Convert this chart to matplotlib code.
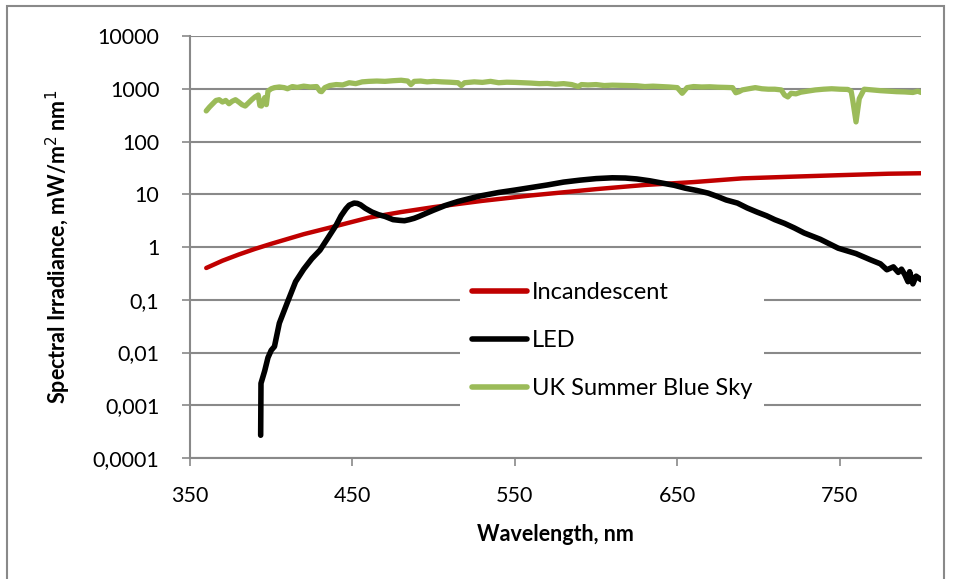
import matplotlib
matplotlib.use('Agg')
import matplotlib.pyplot as plt
from matplotlib.patches import Rectangle
from matplotlib.ticker import FixedLocator, FixedFormatter, NullLocator

# Incandescent lamp
inc_wl = [360, 370, 380, 390, 400, 420, 440, 460, 480, 500, 530, 560, 600, 630, 660, 690, 720, 750, 780, 800]
inc_val = [0.40, 0.55, 0.72, 0.92, 1.15, 1.75, 2.5, 3.6, 4.6, 5.7, 7.5, 9.5, 12.5, 15, 17, 20, 21.5, 23, 24.5, 25]

# LED
led_wl = [393.5, 393.7, 396, 398, 400, 402, 405, 410, 415, 420, 425, 430, 435, 440, 443, 446, 448, 451, 453,
          455, 458, 462, 466, 470, 475, 479, 482, 485, 488, 491, 495, 500, 507, 515, 528, 540, 550, 570, 580,
          590, 600, 610, 618, 625, 633, 642, 648, 655, 662, 669, 675, 680, 687, 693, 699, 705, 710, 716, 722,
          728, 738, 749, 760, 769, 775, 779, 783, 786, 788, 790, 792, 793, 795, 797, 800]
led_val = [0.00027, 0.0026, 0.0045, 0.008, 0.011, 0.013, 0.036, 0.09, 0.22, 0.38, 0.6, 0.87, 1.5, 2.6, 3.9, 5.3,
           6.2, 6.8, 6.7, 6.3, 5.4, 4.6, 4.1, 3.8, 3.3, 3.2, 3.15, 3.3, 3.5, 3.8, 4.3, 5.0, 6.1, 7.3, 9.2, 10.8,
           12, 15, 17, 18.5, 19.8, 20.5, 20.3, 19.5, 18, 16, 14.8, 13, 11.8, 10.5, 9.0, 7.8, 6.8, 5.5, 4.6, 3.9,
           3.3, 2.8, 2.3, 1.85, 1.4, 0.95, 0.75, 0.57, 0.48, 0.37, 0.42, 0.33, 0.38, 0.30, 0.22, 0.34, 0.20,
           0.28, 0.24]

# UK summer blue sky
sky_wl = [360, 362, 364, 366, 368, 370, 372, 374, 376, 378, 380, 382, 384, 386, 388, 390, 392, 393, 394, 396,
          397, 398, 400, 402, 405, 408, 410, 413, 416, 420, 424, 428, 430, 431, 433, 436, 440, 444, 448, 452,
          456, 460, 465, 470, 475, 480, 484, 486, 488, 492, 496, 500, 505, 510, 515, 517, 519, 525, 530, 535,
          540, 545, 550, 555, 560, 565, 570, 575, 580, 585, 589, 591, 595, 600, 605, 610, 615, 620, 625, 630,
          635, 640, 645, 650, 653, 656, 660, 665, 670, 675, 680, 684, 686, 688, 690, 694, 698, 702, 706, 710,
          714, 716, 718, 720, 723, 726, 730, 735, 740, 745, 750, 755, 757, 758, 760, 762, 765, 770, 775, 780,
          785, 790, 795, 798, 800]
sky_val = [380, 450, 520, 600, 620, 560, 600, 520, 580, 620, 560, 500, 470, 540, 620, 700, 760, 480, 470, 680,
           500, 900, 1000, 1050, 1080, 1050, 1000, 1100, 1060, 1120, 1080, 1100, 900, 880, 1050, 1150, 1200, 1180,
           1300, 1250, 1350, 1380, 1400, 1380, 1420, 1450, 1400, 1200, 1380, 1400, 1350, 1380, 1350, 1330, 1300,
           1150, 1300, 1350, 1320, 1380, 1300, 1330, 1320, 1300, 1280, 1250, 1260, 1220, 1250, 1200, 1100, 1200,
           1180, 1200, 1150, 1170, 1160, 1150, 1140, 1100, 1120, 1100, 1080, 1050, 820, 1050, 1100, 1080, 1090,
           1070, 1060, 1050, 840, 880, 950, 1000, 1050, 1000, 980, 980, 950, 760, 700, 820, 800, 860, 900, 950,
           980, 1000, 980, 970, 900, 600, 235, 650, 980, 950, 920, 900, 880, 870, 850, 900, 850]

yticks = [1e-4, 1e-3, 1e-2, 1e-1, 1, 10, 100, 1000, 10000]
ylabels = ['0,0001', '0,001', '0,01', '0,1', '1', '10', '100', '1000', '10000']
xticks = [350, 450, 550, 650, 750]

plt.rcParams['font.family'] = ['Lato', 'DejaVu Sans']
grey = '#898989'

fig = plt.figure(figsize=(9.57, 5.79), dpi=100)
ax = fig.add_axes([190 / 957, 1 - 458 / 579, (921 - 190) / 957, (458 - 36) / 579])

ax.plot(inc_wl, inc_val, color='#C00000', lw=3.2, solid_capstyle='round', label='Incandescent')
ax.plot(led_wl, led_val, color='black', lw=4, solid_capstyle='round', solid_joinstyle='round', label='LED')
ax.plot(sky_wl, sky_val, color='#9BBB59', lw=3.8, solid_capstyle='round', solid_joinstyle='round',
        label='UK Summer Blue Sky')

ax.set_yscale('log')
ax.set_ylim(1e-4, 1e4)
ax.set_xlim(350, 800)
ax.yaxis.set_major_locator(FixedLocator(yticks))
ax.yaxis.set_major_formatter(FixedFormatter(ylabels))
ax.yaxis.set_minor_locator(NullLocator())
ax.set_xticks(xticks)
ax.set_xticklabels([str(x) for x in xticks])

ax.grid(axis='y', color=grey, lw=1.5)
ax.set_axisbelow(True)
for s in ['top', 'right']:
    ax.spines[s].set_visible(False)
for s in ['left', 'bottom']:
    ax.spines[s].set_color(grey)
    ax.spines[s].set_linewidth(1.5)
ax.tick_params(axis='both', color=grey, width=1.2, length=6, labelsize=15.5, direction='out')
ax.tick_params(axis='y', pad=16)
ax.tick_params(axis='x', pad=14)

ax.set_xlabel('Wavelength, nm', fontsize=15.5, fontweight='bold', labelpad=13)
ax.set_ylabel('Spectral Irradiance, mW/m$^2$ nm$^1$', fontsize=15.5, fontweight='bold', labelpad=14)

leg = ax.legend(loc='upper left', bbox_to_anchor=(460 / 957, 1 - 270 / 579), bbox_transform=fig.transFigure,
                fontsize=17, frameon=True, fancybox=False, borderaxespad=0, borderpad=0.5,
                handlelength=2.35, handletextpad=0.2, labelspacing=1.15)
leg.get_frame().set_facecolor('white')
leg.get_frame().set_edgecolor('none')
leg.get_frame().set_alpha(1)
for line in leg.get_lines():
    line.set_linewidth(4)

fig.patches.append(Rectangle((7 / 957, -0.1), (944 - 7) / 957, 1.1 - 6 / 579, transform=fig.transFigure,
                             fill=False, edgecolor=grey, lw=1.5))

fig.savefig('out.png', dpi=100)
